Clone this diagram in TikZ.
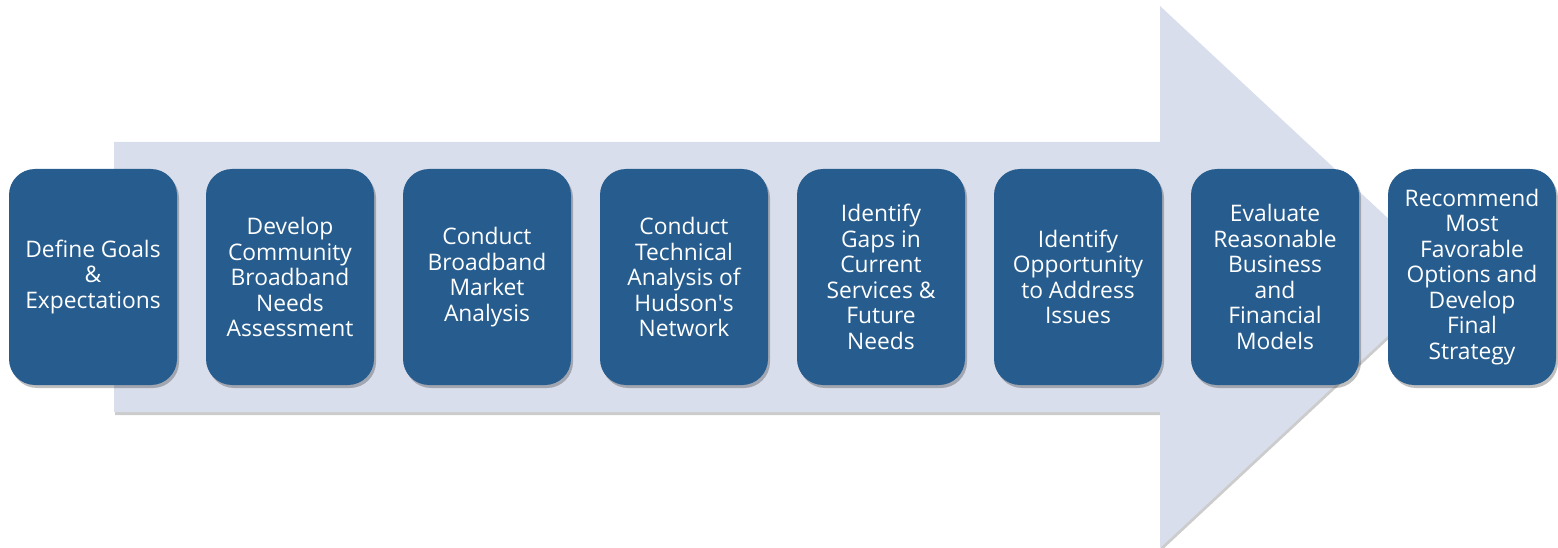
\documentclass[tikz,border=0pt]{standalone}
\usepackage{fontspec}
\setmainfont{Open Sans}
\usetikzlibrary{shadows}
\definecolor{boxblue}{HTML}{275D8E}
\definecolor{arrowfill}{HTML}{D9DEEC}
\begin{document}
\begin{tikzpicture}[x=1pt,y=-1pt,
  stepbox/.style={fill=boxblue, draw=none, rounded corners=26pt, minimum width=168pt, minimum height=216pt, inner sep=0pt, text=white, align=center, font=\fontsize{22.8}{25.5}\selectfont, drop shadow={shadow xshift=2pt, shadow yshift=-3pt, opacity=0.25, fill=black}},
  bigarrow/.style={fill=arrowfill, draw=none, drop shadow={shadow xshift=1pt, shadow yshift=-3pt, opacity=0.2, fill=black}}]
\useasboundingbox (0,0) rectangle (1558,548);
\fill[bigarrow] (114,142) -- (1160,142) -- (1160,6) -- (1451,277) -- (1160,548) -- (1160,412) -- (114,412) -- cycle;
\node[stepbox] (s1) at (93,277) {Define Goals\\\&\\Expectations};
\node[stepbox] (s2) at (290,277) {Develop\\Community\\Broadband\\Needs\\Assessment};
\node[stepbox] (s3) at (487,277) {Conduct\\Broadband\\Market\\Analysis};
\node[stepbox] (s4) at (684,277) {Conduct\\Technical\\Analysis of\\Hudson\textquotesingle s\\Network};
\node[stepbox] (s5) at (881,277) {Identify\\Gaps in\\Current\\Services \&\\Future\\Needs};
\node[stepbox] (s6) at (1078,277) {Identify\\Opportunity\\to Address\\Issues};
\node[stepbox] (s7) at (1275,277) {Evaluate\\Reasonable\\Business\\and\\Financial\\Models};
\node[stepbox] (s8) at (1472,277) {Recommend\\Most\\Favorable\\Options and\\Develop\\Final\\Strategy};
\end{tikzpicture}
\end{document}
